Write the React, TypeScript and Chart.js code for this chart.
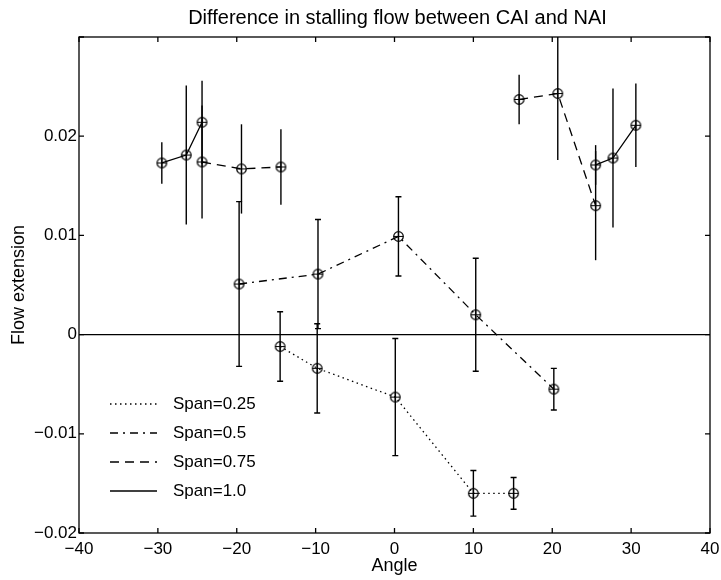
import React, { useEffect, useRef } from 'react';
import { Chart, registerables } from 'chart.js';

Chart.register(...registerables);

const TITLE = 'Difference in stalling flow between CAI and NAI';
const X_LABEL = 'Angle';
const Y_LABEL = 'Flow extension';
const X_MIN = -40;
const X_MAX = 40;
const Y_MIN = -0.02;
const Y_MAX = 0.03;
const X_TICKS = [-40, -30, -20, -10, 0, 10, 20, 30, 40];
const Y_TICKS = [-0.02, -0.01, 0, 0.01, 0.02, 0.03];

// Span = 0.25 (dotted)
const span025X = [-14.5, -9.8, 0.1, 10.0, 15.1];
const span025Y = [-0.0012, -0.0034, -0.0063, -0.016, -0.016];
const span025Err = [0.0035, 0.0045, 0.0059, 0.0023, 0.0016];

// Span = 0.5 (dash-dot)
const span05X = [-19.7, -9.7, 0.5, 10.3, 20.2];
const span05Y = [0.0051, 0.0061, 0.0099, 0.002, -0.0055];
const span05Err = [0.0083, 0.0055, 0.004, 0.0057, 0.0021];

// Span = 0.75 (dashed), two separate groups
const span075LeftX = [-24.4, -19.4, -14.4];
const span075LeftY = [0.0174, 0.0167, 0.0169];
const span075LeftErr = [0.0057, 0.0045, 0.0038];
const span075RightX = [15.8, 20.7, 25.5];
const span075RightY = [0.0237, 0.0243, 0.013];
const span075RightErr = [0.0025, 0.0067, 0.0055];

// Span = 1.0 (solid), two separate groups
const span10LeftX = [-29.5, -26.4, -24.4];
const span10LeftY = [0.0173, 0.0181, 0.0214];
const span10LeftErr = [0.0021, 0.007, 0.0042];
const span10RightX = [25.5, 27.7, 30.6];
const span10RightY = [0.0171, 0.0178, 0.0211];
const span10RightErr = [0.002, 0.007, 0.0042];

const LEGEND_LABELS = ['Span=0.25', 'Span=0.5', 'Span=0.75', 'Span=1.0'];

const FONT = '"Liberation Sans", Arial, Helvetica, sans-serif';
const DOTTED = [1.5, 3.5];
const DASHDOT = [8, 5, 2, 5];
const DASHED = [9, 6];
const SOLID: number[] = [];
const LEGEND_DASHES = [DOTTED, DASHDOT, DASHED, SOLID];

function makeMarker(): HTMLCanvasElement {
  const c = document.createElement('canvas');
  c.width = 13;
  c.height = 13;
  const g = c.getContext('2d')!;
  g.strokeStyle = '#000';
  g.lineWidth = 1.2;
  g.beginPath();
  g.arc(6.5, 6.5, 4.8, 0, Math.PI * 2);
  g.stroke();
  g.beginPath();
  g.moveTo(1.7, 6.5);
  g.lineTo(11.3, 6.5);
  g.moveTo(6.5, 1.7);
  g.lineTo(6.5, 11.3);
  g.stroke();
  return c;
}

function pts(xs: number[], ys: number[]) {
  return xs.map((x, i) => ({ x, y: ys[i] }));
}

function fmtY(v: number): string {
  const r = Math.round(v * 100) / 100;
  if (r === 0) return '0';
  const s = Math.abs(r).toString();
  return r < 0 ? '\u2212' + s : s;
}

function fmtX(v: number): string {
  return v < 0 ? '\u2212' + Math.abs(v) : String(v);
}

export default function App() {
  const ref = useRef<HTMLCanvasElement | null>(null);

  useEffect(() => {
    if (!ref.current) return;
    const marker = makeMarker();
    const mk = (xs: number[], ys: number[], errs: number[], dash: number[], caps: boolean) => ({
      data: pts(xs, ys),
      errs,
      caps,
      borderColor: '#000',
      backgroundColor: '#000',
      borderWidth: 1.3,
      borderDash: dash,
      pointStyle: marker,
      pointRadius: 5,
      pointHoverRadius: 5,
      showLine: true,
      tension: 0,
      fill: false,
    });

    const datasets: any[] = [
      {
        data: pts([X_MIN, X_MAX], [0, 0]),
        errs: [],
        borderColor: '#000',
        borderWidth: 1.3,
        pointRadius: 0,
        showLine: true,
        fill: false,
      },
      mk(span025X, span025Y, span025Err, DOTTED, true),
      mk(span05X, span05Y, span05Err, DASHDOT, true),
      mk(span075LeftX, span075LeftY, span075LeftErr, DASHED, false),
      mk(span075RightX, span075RightY, span075RightErr, DASHED, false),
      mk(span10LeftX, span10LeftY, span10LeftErr, SOLID, false),
      mk(span10RightX, span10RightY, span10RightErr, SOLID, false),
    ];

    const errorBars = {
      id: 'errorBars',
      beforeDatasetsDraw(chart: any) {
        const { ctx, chartArea: a, scales } = chart;
        const xs = scales.x;
        const ys = scales.y;
        ctx.save();
        ctx.beginPath();
        ctx.rect(a.left, a.top, a.right - a.left, a.bottom - a.top);
        ctx.clip();
        ctx.strokeStyle = '#000';
        ctx.lineWidth = 1.4;
        ctx.setLineDash([]);
        chart.data.datasets.forEach((ds: any) => {
          (ds.errs || []).forEach((e: number, i: number) => {
            const p = ds.data[i];
            const px = xs.getPixelForValue(p.x);
            const y1 = ys.getPixelForValue(p.y + e);
            const y2 = ys.getPixelForValue(p.y - e);
            ctx.beginPath();
            ctx.moveTo(px, y1);
            ctx.lineTo(px, y2);
            if (ds.caps) {
              ctx.moveTo(px - 3, y1);
              ctx.lineTo(px + 3, y1);
              ctx.moveTo(px - 3, y2);
              ctx.lineTo(px + 3, y2);
            }
            ctx.stroke();
          });
        });
        ctx.restore();
      },
    };

    const frame = {
      id: 'frame',
      afterDraw(chart: any) {
        const { ctx, chartArea: a, scales } = chart;
        ctx.save();
        ctx.strokeStyle = '#000';
        ctx.lineWidth = 1.3;
        ctx.setLineDash([]);
        ctx.strokeRect(a.left, a.top, a.right - a.left, a.bottom - a.top);
        const tl = 5;
        ctx.beginPath();
        X_TICKS.forEach((t) => {
          const px = scales.x.getPixelForValue(t);
          ctx.moveTo(px, a.bottom);
          ctx.lineTo(px, a.bottom - tl);
          ctx.moveTo(px, a.top);
          ctx.lineTo(px, a.top + tl);
        });
        Y_TICKS.forEach((t) => {
          const py = scales.y.getPixelForValue(t);
          ctx.moveTo(a.left, py);
          ctx.lineTo(a.left + tl, py);
          ctx.moveTo(a.right, py);
          ctx.lineTo(a.right - tl, py);
        });
        ctx.stroke();

        // title, centred over the plot area
        ctx.fillStyle = '#000';
        ctx.font = '20px ' + FONT;
        ctx.textAlign = 'center';
        ctx.textBaseline = 'middle';
        ctx.fillText(TITLE, (a.left + a.right) / 2 + 3, 18);

        // legend
        const rowY = [404, 433, 462, 491];
        ctx.font = '17px ' + FONT;
        ctx.textBaseline = 'middle';
        ctx.textAlign = 'left';
        LEGEND_LABELS.forEach((lab, i) => {
          ctx.beginPath();
          ctx.setLineDash(LEGEND_DASHES[i]);
          ctx.lineWidth = 1.3;
          ctx.moveTo(110, rowY[i]);
          ctx.lineTo(157, rowY[i]);
          ctx.stroke();
          ctx.setLineDash([]);
          ctx.fillText(lab, 173, rowY[i]);
        });
        ctx.restore();
      },
    };

    const chart = new Chart(ref.current, {
      type: 'scatter',
      data: { datasets },
      plugins: [errorBars, frame],
      options: {
        animation: false,
        responsive: false,
        events: [],
        layout: { padding: { left: 0, right: 11, top: 37, bottom: 0 } },
        plugins: {
          legend: { display: false },
          tooltip: { enabled: false },
          title: { display: false },
        },
        scales: {
          x: {
            type: 'linear',
            min: X_MIN,
            max: X_MAX,
            afterBuildTicks(s: any) {
              s.ticks = X_TICKS.map((v) => ({ value: v }));
            },
            afterFit(s: any) {
              s.height = 47;
              s.paddingLeft = 0;
              s.paddingRight = 0;
            },
            grid: { display: false, drawTicks: false },
            border: { display: false },
            ticks: {
              color: '#000',
              font: { family: FONT, size: 17 },
              padding: 6,
              maxRotation: 0,
              callback: (v: any) => fmtX(Number(v)),
            },
            title: {
              display: true,
              text: X_LABEL,
              color: '#000',
              font: { family: FONT, size: 18 },
              padding: { top: 0, bottom: 3 },
            },
          },
          y: {
            type: 'linear',
            min: Y_MIN,
            max: Y_MAX,
            afterBuildTicks(s: any) {
              s.ticks = Y_TICKS.map((v) => ({ value: v }));
            },
            afterFit(s: any) {
              s.width = 79;
              s.paddingTop = 0;
              s.paddingBottom = 0;
            },
            grid: { display: false, drawTicks: false },
            border: { display: false },
            ticks: {
              color: '#000',
              font: { family: FONT, size: 17 },
              padding: 2,
              callback: (v: any) => (Number(v) > 0.025 ? '' : fmtY(Number(v))),
            },
            title: {
              display: true,
              text: Y_LABEL,
              color: '#000',
              font: { family: FONT, size: 18 },
              padding: { top: 8, bottom: 0 },
            },
          },
        },
      } as any,
    });
    return () => chart.destroy();
  }, []);

  return (
    <div style={{ position: 'absolute', left: 0, top: 0, width: 721, height: 580, background: '#fff' }}>
      <canvas ref={ref} width={721} height={580} style={{ width: 721, height: 580, display: 'block' }} />
    </div>
  );
}
